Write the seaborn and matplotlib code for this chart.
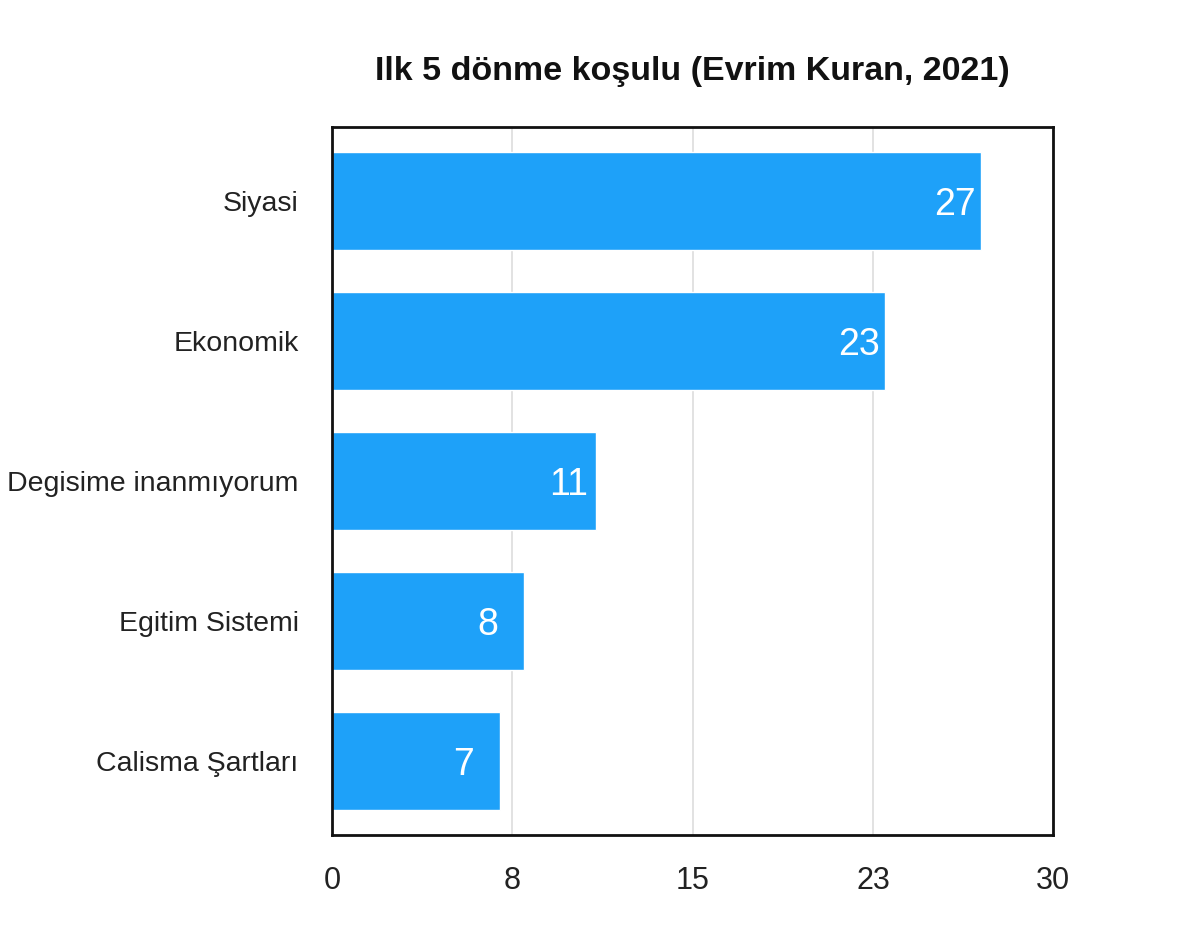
import matplotlib
matplotlib.use("Agg")
import matplotlib.pyplot as plt
import seaborn as sns
import pandas as pd

categories = ["Siyasi", "Ekonomik", "Degisime inanmıyorum", "Egitim Sistemi", "Calisma Şartları"]
values = [27, 23, 11, 8, 7]
tick_values = [0, 7.5, 15, 22.5, 30]
tick_labels = ["0", "8", "15", "23", "30"]
title = "Ilk 5 dönme koşulu (Evrim Kuran, 2021)"

sns.set_theme(style="white")
plt.rcParams['font.family'] = ['Liberation Sans Narrow', 'Liberation Sans', 'DejaVu Sans']

df = pd.DataFrame({"cat": categories, "val": values})

fig = plt.figure(figsize=(12, 9.5), dpi=100)
ax = fig.add_axes([0.2767, 0.1211, 0.601, 0.7453])

sns.barplot(data=df, y="cat", x="val", color="#1EA1F9", saturation=1, width=0.70, ax=ax, orient="h")

ax.set_xlim(0, 30)
ax.set_ylim(4.53, -0.53)
ax.set_xticks(tick_values)
ax.set_xticklabels(tick_labels)
ax.grid(axis="x", color="#dddddd", linewidth=1.2)
ax.set_axisbelow(True)
ax.set_xlabel("")
ax.set_ylabel("")
for s in ax.spines.values():
    s.set_color("#111111")
    s.set_linewidth(2)
ax.tick_params(axis="x", length=0, pad=22, labelsize=22, labelcolor="#222222")
ax.tick_params(axis="y", length=0, pad=24, labelsize=20.5, labelcolor="#222222")

for container in ax.containers:
    texts = ax.bar_label(container, labels=[str(v) for v in values], padding=-34,
                         color="white", fontsize=27, label_type="edge")
    for t in texts:
        t.set_va("center_baseline")

ax.set_title(title, fontsize=24.5, fontweight="bold", pad=34, color="#111111")

fig.savefig("out.png", dpi=100)
